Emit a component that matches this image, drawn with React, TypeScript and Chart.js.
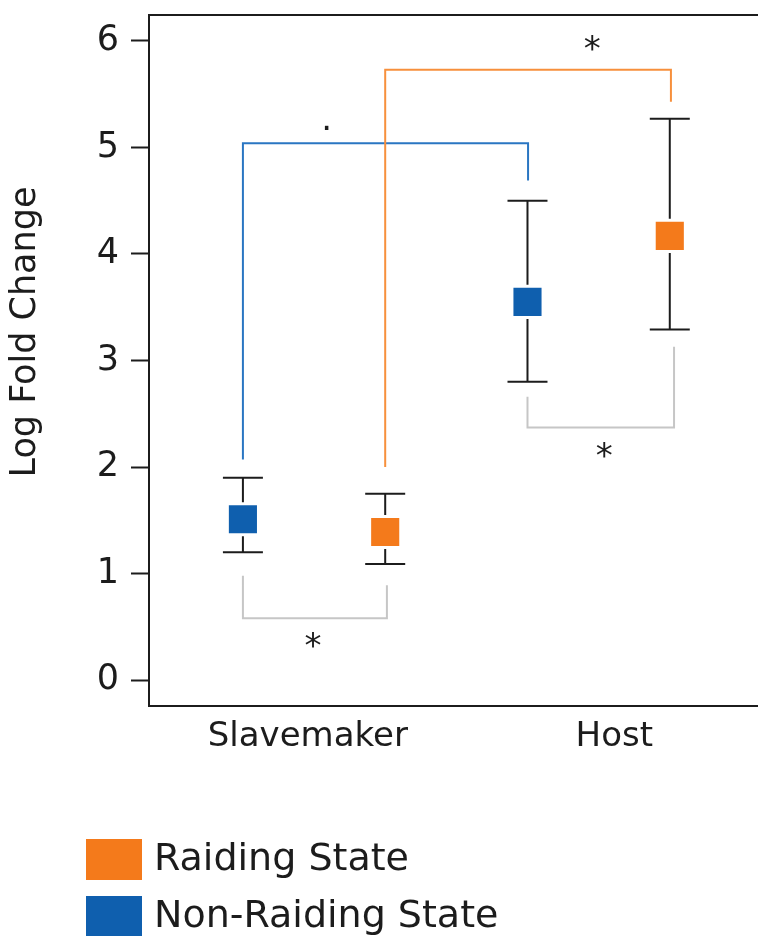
import React, { useEffect, useRef } from "react";
import { Chart, registerables } from "chart.js";

Chart.register(...registerables);

// ---- data ----
const categories = ["Slavemaker", "Host"];
const categoryPos = [1, 2];
const categoryLabelShift = [-0.022, 0.055];
const seriesOffset = { raiding: 0.25, nonRaiding: -0.25 };

const raidingMean = [1.39, 4.17];
const raidingLow = [1.09, 3.29];
const raidingHigh = [1.75, 5.27];

const nonRaidingMean = [1.51, 3.55];
const nonRaidingLow = [1.2, 2.8];
const nonRaidingHigh = [1.9, 4.5];

const yTicks = [0, 1, 2, 3, 4, 5, 6];

// significance brackets: legs start at leg1/leg2, joined at bar; label at (lx, ly)
const bracketX1 = [0.75, 1.75, 0.75, 1.25];
const bracketX2 = [1.256, 2.265, 1.752, 2.254];
const bracketLeg1 = [0.98, 2.66, 2.07, 2.0];
const bracketLeg2 = [0.89, 3.13, 4.69, 5.43];
const bracketBar = [0.58, 2.37, 5.04, 5.73];
const bracketText = ["*", "*", ".", "*"];
const bracketTextX = [0.996, 2.02, 1.044, 1.978];
const bracketTextY = [0.376, 2.16, 5.186, 5.984];
const bracketKind = ["within", "within", "nonRaiding", "raiding"];

const RAID = "#f47a1b";
const NONRAID = "#0f5fae";
const RAID_LINE = "#f7903c";
const NONRAID_LINE = "#2a76c2";
const GRAY_LINE = "#c6c6c6";
const INK = "#1c1c1c";
const FONT = "DejaVu Sans";

function centeredText(ctx: CanvasRenderingContext2D, text: string, x: number, y: number) {
  ctx.textAlign = "center";
  ctx.textBaseline = "alphabetic";
  const m = ctx.measureText(text);
  ctx.fillText(text, x, y + (m.actualBoundingBoxAscent - m.actualBoundingBoxDescent) / 2);
}

const annotPlugin = {
  id: "annot",
  beforeDatasetsDraw(chart: any) {
    const ctx: CanvasRenderingContext2D = chart.ctx;
    const xs = chart.scales.x;
    const ys = chart.scales.y;
    // brackets
    for (let i = 0; i < bracketX1.length; i++) {
      const k = bracketKind[i];
      ctx.save();
      ctx.strokeStyle = k === "raiding" ? RAID_LINE : k === "nonRaiding" ? NONRAID_LINE : GRAY_LINE;
      ctx.lineWidth = 2;
      ctx.lineJoin = "miter";
      ctx.beginPath();
      ctx.moveTo(xs.getPixelForValue(bracketX1[i]), ys.getPixelForValue(bracketLeg1[i]));
      ctx.lineTo(xs.getPixelForValue(bracketX1[i]), ys.getPixelForValue(bracketBar[i]));
      ctx.lineTo(xs.getPixelForValue(bracketX2[i]), ys.getPixelForValue(bracketBar[i]));
      ctx.lineTo(xs.getPixelForValue(bracketX2[i]), ys.getPixelForValue(bracketLeg2[i]));
      ctx.stroke();
      ctx.restore();
    }
    // error bars
    chart.data.datasets.forEach((ds: any) => {
      ds.data.forEach((p: any) => {
        const x = xs.getPixelForValue(p.x);
        const lo = ys.getPixelForValue(p.low);
        const hi = ys.getPixelForValue(p.high);
        ctx.save();
        ctx.strokeStyle = INK;
        ctx.lineWidth = 2;
        ctx.beginPath();
        ctx.moveTo(x, lo);
        ctx.lineTo(x, hi);
        ctx.moveTo(x - 20, lo);
        ctx.lineTo(x + 20, lo);
        ctx.moveTo(x - 20, hi);
        ctx.lineTo(x + 20, hi);
        ctx.stroke();
        ctx.restore();
      });
    });
  },
  afterDraw(chart: any) {
    const ctx: CanvasRenderingContext2D = chart.ctx;
    const xs = chart.scales.x;
    const ys = chart.scales.y;
    const ca = chart.chartArea;
    // top frame line
    ctx.save();
    ctx.strokeStyle = INK;
    ctx.lineWidth = 2;
    ctx.beginPath();
    ctx.moveTo(ca.left - 1, ca.top);
    ctx.lineTo(ca.right, ca.top);
    ctx.stroke();
    ctx.restore();

    // y tick labels
    ctx.save();
    ctx.fillStyle = INK;
    ctx.font = `35px "${FONT}"`;
    ctx.textAlign = "right";
    ctx.textBaseline = "middle";
    ys.ticks.forEach((t: any) => {
      ctx.fillText(String(t.value), ca.left - 18 - 12, ys.getPixelForValue(t.value));
    });
    ctx.restore();

    // x category labels
    ctx.save();
    ctx.fillStyle = INK;
    ctx.font = `34px "${FONT}"`;
    ctx.textAlign = "center";
    ctx.textBaseline = "middle";
    categories.forEach((c, i) => {
      ctx.fillText(c, xs.getPixelForValue(categoryPos[i] + categoryLabelShift[i]), ca.bottom + 31);
    });
    ctx.restore();

    // significance labels
    ctx.save();
    ctx.fillStyle = INK;
    ctx.font = `34px "${FONT}"`;
    for (let i = 0; i < bracketText.length; i++) {
      centeredText(ctx, bracketText[i], xs.getPixelForValue(bracketTextX[i]), ys.getPixelForValue(bracketTextY[i]));
    }
    ctx.restore();

    // y axis title
    ctx.save();
    ctx.fillStyle = INK;
    ctx.font = `35px "${FONT}"`;
    ctx.translate(26, 332);
    ctx.rotate(-Math.PI / 2);
    ctx.textAlign = "center";
    ctx.textBaseline = "middle";
    ctx.fillText("Log Fold Change", 0, 0);
    ctx.restore();

    // legend
    ctx.save();
    ctx.font = `38px "${FONT}"`;
    ctx.textAlign = "left";
    ctx.textBaseline = "alphabetic";
    chart.data.datasets.forEach((ds: any, i: number) => {
      const top = 839 + i * 57;
      ctx.fillStyle = ds.backgroundColor;
      ctx.fillRect(86, top, 56, 41);
      ctx.fillStyle = INK;
      ctx.fillText(ds.label, 154, top + 31);
    });
    ctx.restore();
  },
};

function buildPoints(mean: number[], low: number[], high: number[], off: number) {
  return mean.map((m, i) => ({ x: categoryPos[i] + off, y: m, low: low[i], high: high[i] }));
}

export default function App() {
  const ref = useRef<HTMLCanvasElement | null>(null);
  useEffect(() => {
    document.body.style.margin = "0";
    const canvas = ref.current!;
    const chart = new Chart(canvas, {
      type: "scatter",
      data: {
        datasets: [
          {
            label: "Raiding State",
            data: buildPoints(raidingMean, raidingLow, raidingHigh, seriesOffset.raiding),
            backgroundColor: RAID,
            borderColor: "#ffffff",
            borderWidth: 3,
            pointStyle: "rect",
            pointRadius: 22,
            pointHoverRadius: 22,
          },
          {
            label: "Non-Raiding State",
            data: buildPoints(nonRaidingMean, nonRaidingLow, nonRaidingHigh, seriesOffset.nonRaiding),
            backgroundColor: NONRAID,
            borderColor: "#ffffff",
            borderWidth: 3,
            pointStyle: "rect",
            pointRadius: 22,
            pointHoverRadius: 22,
          },
        ],
      } as any,
      options: {
        animation: false,
        responsive: false,
        events: [],
        layout: { autoPadding: false, padding: { left: 0, right: 0, top: 15, bottom: 170 } },
        plugins: { legend: { display: false }, tooltip: { enabled: false } },
        scales: {
          x: {
            type: "linear",
            min: 0.42,
            max: 2.56,
            afterFit: (axis: any) => {
              axis.height = 60;
            },
            ticks: { display: false },
            grid: { display: true, drawOnChartArea: false, drawTicks: false },
            border: { display: true, color: INK, width: 2 },
          },
          y: {
            type: "linear",
            min: -0.244,
            max: 6.244,
            afterBuildTicks: (axis: any) => {
              axis.ticks = yTicks.map((v) => ({ value: v }));
            },
            afterFit: (axis: any) => {
              axis.width = 149;
            },
            ticks: { display: false },
            grid: {
              display: true,
              drawOnChartArea: false,
              drawTicks: true,
              tickLength: 18,
              tickColor: INK,
              tickWidth: 2,
            },
            border: { display: true, color: INK, width: 2 },
          },
        },
      } as any,
      plugins: [annotPlugin],
    });
    return () => chart.destroy();
  }, []);
  return <canvas ref={ref} width={758} height={936} style={{ display: "block" }} />;
}
